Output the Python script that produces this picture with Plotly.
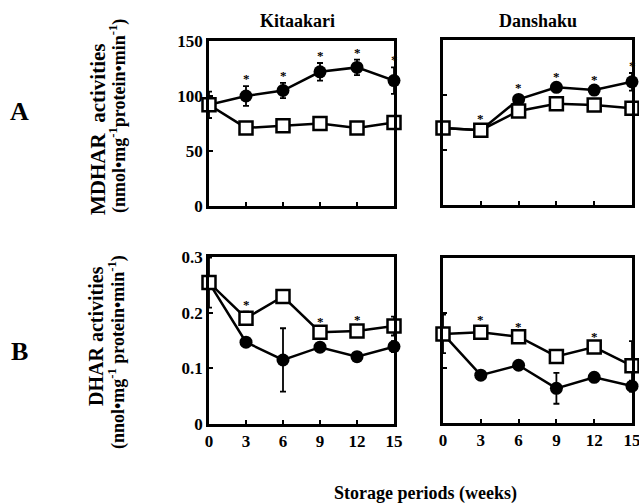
import plotly.graph_objects as go

weeks = [0, 3, 6, 9, 12, 15]

# Panel A (MDHAR), Kitaakari
mdhar_kit_filled = [92, 100, 105, 122, 126, 114]
mdhar_kit_filled_err = [12, 9, 7, 8, 7, 12]
mdhar_kit_open = [92, 71, 73, 75, 71, 76]
mdhar_kit_open_err = [2, 2, 2, 2, 2, 2]

# Panel A (MDHAR), Danshaku
mdhar_dan_filled = [70, 68, 96, 107, 104.5, 112]
mdhar_dan_filled_err = [3, 3, 4, 3, 3, 8]
mdhar_dan_open = [70, 68, 85.5, 92, 91, 88]
mdhar_dan_open_err = [2, 4, 3, 3, 3, 5]

# Panel B (DHAR), Kitaakari
dhar_kit_filled = [0.254, 0.147, 0.115, 0.138, 0.121, 0.139]
dhar_kit_filled_err = [0.045, 0.005, 0.057, 0.005, 0.005, 0.01]
dhar_kit_open = [0.254, 0.19, 0.229, 0.165, 0.167, 0.176]
dhar_kit_open_err = [0.01, 0.012, 0.005, 0.005, 0.008, 0.017]

# Panel B (DHAR), Danshaku
dhar_dan_filled = [0.162, 0.087, 0.105, 0.063, 0.083, 0.067]
dhar_dan_filled_err = [0.01, 0.005, 0.005, 0.028, 0.005, 0.01]
dhar_dan_open = [0.162, 0.165, 0.157, 0.121, 0.138, 0.104]
dhar_dan_open_err = [0.035, 0.01, 0.005, 0.005, 0.005, 0.045]

# significance marks: (series, weeks)
stars_mdhar_kit = [("filled", [3, 6, 9, 12, 15])]
stars_mdhar_dan = [("open", [3]), ("filled", [6, 9, 12, 15])]
stars_dhar_kit = [("open", [3, 9, 12])]
stars_dhar_dan = [("open", [3, 6, 12])]

x_ticks = [0, 3, 6, 9, 12, 15]
mdhar_ticks = [0, 50, 100, 150]
dhar_ticks = [0, 0.1, 0.2, 0.3]
cultivars = ["Kitaakari", "Danshaku"]

W, H = 639, 503
FONT = "Liberation Serif"

def px_x(p):
    return p / W

def px_y(p):
    return 1 - p / H

fig = go.Figure()

panels = [
    ("x", "y", mdhar_kit_filled, mdhar_kit_filled_err, mdhar_kit_open, mdhar_kit_open_err,
     stars_mdhar_kit, (209, 394), (41, 206), [0, 150], mdhar_ticks, False, True),
    ("x2", "y2", mdhar_dan_filled, mdhar_dan_filled_err, mdhar_dan_open, mdhar_dan_open_err,
     stars_mdhar_dan, (443, 632), (40, 205), [0, 150], mdhar_ticks, False, False),
    ("x3", "y3", dhar_kit_filled, dhar_kit_filled_err, dhar_kit_open, dhar_kit_open_err,
     stars_dhar_kit, (209, 394), (257, 424), [0, 0.3], dhar_ticks, True, True),
    ("x4", "y4", dhar_dan_filled, dhar_dan_filled_err, dhar_dan_open, dhar_dan_open_err,
     stars_dhar_dan, (443, 632), (258, 423), [0, 0.3], dhar_ticks, True, False),
]

annotations = []
layout_axes = {}
for i, (xa, ya, fv, fe, ov, oe, stars, dx, dy, yr, yt, sxl, syl) in enumerate(panels):
    fig.add_trace(go.Scatter(
        x=weeks, y=fv, mode="lines+markers", xaxis=xa, yaxis=ya,
        line=dict(color="black", width=2.5),
        marker=dict(symbol="circle", size=13, color="black"),
        error_y=dict(type="data", array=fe, color="black", thickness=1.8, width=3),
        cliponaxis=False, showlegend=False))
    fig.add_trace(go.Scatter(
        x=weeks, y=ov, mode="lines+markers", xaxis=xa, yaxis=ya,
        line=dict(color="black", width=2.5),
        marker=dict(symbol="square", size=13, color="white",
                    line=dict(color="black", width=2.5)),
        error_y=dict(type="data", array=oe, color="black", thickness=1.8, width=3),
        cliponaxis=False, showlegend=False))
    for series, wks in stars:
        vals, errs = (fv, fe) if series == "filled" else (ov, oe)
        for w in wks:
            k = weeks.index(w)
            annotations.append(dict(
                x=w, y=vals[k] + errs[k], xref=xa, yref=ya, text="<b>*</b>",
                showarrow=False, yanchor="bottom", yshift=-2,
                font=dict(family=FONT, size=13, color="black")))
    xkey = "xaxis" if xa == "x" else "xaxis" + xa[1:]
    ykey = "yaxis" if ya == "y" else "yaxis" + ya[1:]
    layout_axes[xkey] = dict(
        domain=[px_x(dx[0]), px_x(dx[1])], anchor=ya, range=[0, 15],
        tickvals=x_ticks, ticks="inside", ticklen=4, tickwidth=2, tickcolor="black",
        showticklabels=sxl, showline=True, linewidth=2.5, linecolor="black",
        mirror=True, showgrid=False, zeroline=False, automargin=False,
        ticklabeloverflow="allow",
        tickfont=dict(family=FONT, size=17, color="black", weight="bold"))
    layout_axes[ykey] = dict(
        domain=[px_y(dy[1]), px_y(dy[0])], anchor=xa, range=yr,
        tickvals=yt, ticktext=[("%g" % v) for v in yt], ticks="inside", ticklen=4,
        tickwidth=2, tickcolor="black",
        showticklabels=syl, showline=True, linewidth=2.5, linecolor="black",
        mirror=True, showgrid=False, zeroline=False, automargin=False,
        tickfont=dict(family=FONT, size=17, color="black", weight="bold"))

def txt(text, x, y, size, angle=0):
    annotations.append(dict(
        x=px_x(x), y=px_y(y), xref="paper", yref="paper", text=text,
        showarrow=False, textangle=angle, xanchor="center", yanchor="middle",
        font=dict(family=FONT, size=size, color="black", weight="bold")))

txt(cultivars[0], 297, 21, 18)
txt(cultivars[1], 538, 21, 18)
txt("Storage periods (weeks)", 425, 493, 18)
txt("A", 19, 111, 26)
txt("B", 19, 351, 26)
txt("MDHAR\u00a0\u00a0activities", 98, 130, 21, -90)
txt("(nmol•mg<sup>-1</sup>protein•min<sup>-1</sup>)", 118, 116, 18, -90)
txt("DHAR activities", 96, 336, 20, -90)
txt("(nnol•mg<sup>-1</sup> protein•min<sup>-1</sup>)", 117, 352, 18, -90)

fig.update_layout(
    template="none",
    width=W, height=H, margin=dict(l=0, r=0, t=0, b=0, autoexpand=False),
    paper_bgcolor="white", plot_bgcolor="white",
    annotations=annotations, **layout_axes)

fig.write_html(
    "out.html",
    config={"displayModeBar": False},
    post_script="document.body.style.margin='0';document.body.style.padding='0';"
                "document.body.style.overflow='hidden';")
